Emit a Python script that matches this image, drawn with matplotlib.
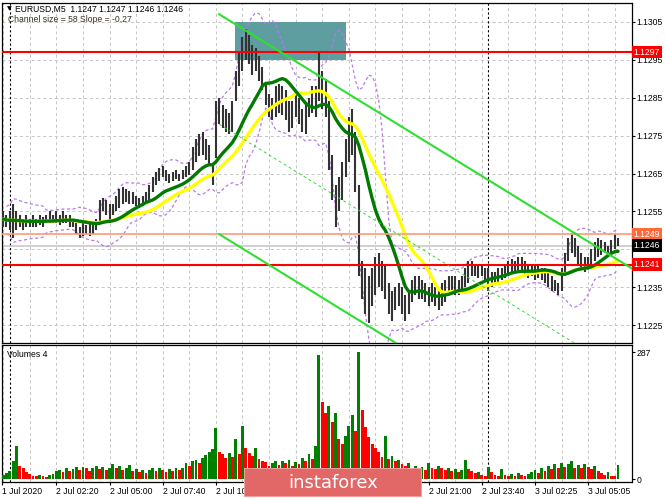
import numpy as np
import pandas as pd
import matplotlib
matplotlib.use("Agg")
import matplotlib.pyplot as plt
import matplotlib.transforms as mtransforms
from matplotlib.patches import Rectangle

# x unit = one M5 bar, counted from 2 Jul 00:00; each drawn bar covers 10 minutes
BAR_START = -4
BAR_STEP = 2

# bar highs / lows in pips above 1.1200
hi_pips = [55, 54, 55, 57, 55, 54, 53, 54, 53,
           54, 53, 54, 53.5, 54, 55, 54, 55, 54, 55, 54, 54, 53,
           52, 51, 52, 51.5, 52, 52, 53,
           58, 58.5, 58, 57, 57,
           59, 61, 61.5, 61, 60.5,
           60, 59, 58.5, 59,
           60, 62, 64, 65.5, 66.5,
           67, 66, 65, 65.5, 66,
           65, 66, 67, 68,
           72, 74, 75.5, 76, 74, 72.5,
           67,
           84, 85, 83, 82, 81, 84,
           92, 97, 101, 103,
           101.5, 99, 98, 96, 93,
           89, 86, 85, 88, 88.5, 88, 87, 84,
           84, 86, 85, 82, 83, 85, 88,
           88, 97, 92,
           90, 84, 70, 62, 64, 68, 74, 80, 82, 76, 62, 42, 40, 38,
           40, 43, 44, 42, 41, 36, 34, 35, 36, 35, 33, 34,
           37, 38, 38, 37, 36, 35, 36, 35, 34, 36, 37,
           38, 38, 38, 37, 38, 40, 42, 42, 41, 41, 41, 40,
           40, 39, 39, 40, 40, 41, 42, 42.5, 42, 43, 43, 42,
           41, 41, 40.5, 41, 40, 40, 39, 38, 37, 36,
           40, 44, 48, 49, 48, 46, 44, 43, 43,
           45, 47, 48, 47.5, 47, 46, 47.5, 49, 48]
lo_pips = [51, 51, 50, 48, 50, 51, 50, 51, 51,
           51, 51, 51.5, 51, 52, 52, 52, 52, 51.5, 52, 52, 51, 51,
           49, 48, 48.5, 49, 48.5, 49, 50,
           52, 55, 54, 52, 54,
           55, 56, 57, 57.5, 57,
           57, 56.5, 56, 56.5,
           57, 58, 60, 62, 63,
           64, 63, 62.5, 63, 63.5,
           63, 63.5, 64, 64.5,
           66, 68, 69.5, 70, 68.5, 67.5,
           62,
           69, 78, 77, 76, 75.5, 76,
           84, 88, 92, 95,
           94, 91, 92, 89.5, 87,
           83, 80, 79, 80, 81, 80.5, 79, 76,
           77, 80, 78, 76, 75.5, 80, 81,
           80, 84, 82,
           80, 66, 58, 51, 55, 58, 64, 68, 70, 60, 38, 32, 28, 25.5,
           30, 33, 35, 34, 32, 28, 26, 29, 30, 28, 26, 28,
           31, 33, 32, 32, 31, 30, 31, 30, 29, 30, 31,
           33, 34, 33, 33, 34, 35, 36, 38, 38, 37.5, 38, 37,
           34, 35, 36, 36.5, 37, 37.5, 38, 39, 39, 39.5, 39, 38.5,
           37.5, 38, 37, 37.5, 37, 36, 35, 34, 34, 33,
           34, 38, 42, 44, 43, 41, 40, 39, 39.5,
           40, 42, 43, 43.5, 44, 43, 44, 45, 46]

volume = [10, 14, 18, 40, 74, 30, 24, 16, 12,
          8, 6, 10, 7, 5, 9, 12, 18, 20, 16, 24, 18, 22,
          27, 20, 28, 24, 18, 26, 30,
          22, 28, 20, 26, 34,
          24, 30, 20, 25, 32,
          18, 22, 16, 20,
          14, 20, 26, 18, 24,
          20, 16, 22, 18, 24,
          20, 26, 36, 30,
          40, 44, 36, 48, 55, 62,
          68,
          116, 62, 56, 48, 58, 50,
          90, 56, 120, 70,
          60, 52, 70, 46, 40,
          38, 30, 36, 42, 32, 40, 36, 44,
          30, 38, 34, 48, 40, 56, 46,
          74, 282, 174,
          150, 165, 130, 150, 90, 80, 98, 120, 145, 110, 287, 157, 118, 95,
          80, 70, 62, 50, 97, 46, 52, 40, 44, 34, 30, 36,
          26, 30, 24, 28, 20, 36, 26, 22, 30, 24, 20,
          26, 18, 22, 16, 20, 44, 22, 18, 14, 16, 10, 8,
          28, 16, 10, 8, 22, 10, 6, 12, 8, 14, 10, 8,
          12, 16, 20, 14, 24, 18, 30, 22, 34, 26,
          36, 28, 34, 40, 26, 32, 24, 34, 28,
          22, 30, 18, 14, 10, 16, 8, 6, 33]

# levels and objects
red_levels = [1.1297, 1.1241]
orange_level = 1.1249
bid = 1.1246
zone_t = (135.5, 202.5)
zone_price = (1.1295, 1.1305)
chan_t0 = 126
chan_top0 = 1.1307
chan_size = 0.0058
chan_slope = -0.000027   # per M5 bar

# labels under the watermark (13:00 .. 18:20) are not visible, so left out
tick_t = [-4.5, 28, 60, 92, 124, 252, 284, 316, 348]
tick_lbl = ["1 Jul 2020", "2 Jul 02:20", "2 Jul 05:00", "2 Jul 07:40", "2 Jul 10:20",
            "2 Jul 21:00", "2 Jul 23:40", "3 Jul 02:25", "3 Jul 05:05"]
price_ticks = [1.1225, 1.1235, 1.1255, 1.1265, 1.1275, 1.1285, 1.1295, 1.1305]
grid_prices = [1.1225, 1.1235, 1.1245, 1.1255, 1.1265, 1.1275, 1.1285, 1.1295, 1.1305]

# --- prepare series ---
hi = 1.12 + np.array(hi_pips) / 10000
lo = 1.12 + np.array(lo_pips) / 10000
t = BAR_START + BAR_STEP * np.arange(len(hi))
med = pd.Series((hi + lo) / 2)
ma_fast = med.rolling(15, min_periods=1).mean()
ma_slow = med.rolling(25, min_periods=1).mean()

# Bollinger(20, 2) on M5: use both ends of each 10-min bar as the samples
both = pd.Series(np.column_stack([lo, hi]).ravel())
bb_mid = both.rolling(20, min_periods=4).mean().to_numpy()[1::2]
bb_std = both.rolling(20, min_periods=4).std(ddof=0).to_numpy()[1::2]
bb_up = bb_mid + 2 * bb_std
bb_dn = bb_mid - 2 * bb_std

vol = np.array(volume)
vol_col = ["#008000"] + ["#008000" if vol[i] > vol[i - 1] else "#ff0000" for i in range(1, len(vol))]

plt.rcParams["font.family"] = ["Liberation Sans", "DejaVu Sans"]
FS = 6.2
W, H = 665, 499
fig = plt.figure(figsize=(W / 100, H / 100), dpi=100, facecolor="white")
ax = fig.add_axes([2 / W, (H - 343) / H, 630 / W, 340.5 / H])
axv = fig.add_axes([2 / W, (H - 481.7) / H, 630 / W, 136.7 / H])

XMIN, XMAX = -4.7, 374.4
grid_t = np.arange(-4, 370, 16)
day_t = [0, 288]
grid_kw = dict(color="#c4c4c4", lw=0.7, ls=(0, (3, 3)), zorder=0)

# --- price panel ---
ax.set_xlim(XMIN, XMAX)
ax.set_ylim(1.12203, 1.13101)
for g in grid_t:
    ax.axvline(g, **grid_kw)
for p in grid_prices:
    ax.axhline(p, **grid_kw)
for d in day_t:
    ax.axvline(d, color="black", lw=0.8, ls=(0, (2, 2)), zorder=1)

ax.add_patch(Rectangle((zone_t[0], zone_price[0]), zone_t[1] - zone_t[0],
                       zone_price[1] - zone_price[0], fc="#5f9ea0", ec="none", zorder=1))

ax.plot(t, bb_up, color="#b77ae8", lw=0.9, ls=(0, (2.5, 2)), zorder=3)
ax.plot(t, bb_dn, color="#b77ae8", lw=0.9, ls=(0, (2.5, 2)), zorder=3)
ax.vlines(t, lo, hi, colors="#333333", lw=1.5, zorder=4)
ax.plot(t, ma_slow, color="#ffff00", lw=2.4, zorder=5, solid_capstyle="round")
ax.plot(t, ma_fast, color="#007a00", lw=2.4, zorder=6, solid_capstyle="round")

ax.axhline(bid, color="#c8c8c8", lw=1.2, zorder=2)
ax.axhline(orange_level, color="#ff9a78", lw=1.2, zorder=7)
for r in red_levels:
    ax.axhline(r, color="#ff0000", lw=1.5, zorder=7)

ct = np.array([chan_t0, XMAX + 5])
top = chan_top0 + chan_slope * (ct - chan_t0)
ax.plot(ct, top, color="#2ee02e", lw=1.5, zorder=8)
ax.plot(ct, top - chan_size, color="#2ee02e", lw=1.5, zorder=8)
ax.plot(ct, top - chan_size / 2, color="#2ee02e", lw=0.7, ls=(0, (3, 3)), zorder=8)

ax.yaxis.tick_right()
ax.set_yticks(price_ticks)
ax.set_yticklabels([f"{p:.4f}" for p in price_ticks])
ax.tick_params(axis="y", direction="out", length=2, pad=1.5, labelsize=FS, colors="black")
ax.set_xticks([])
for s in ax.spines.values():
    s.set_color("black")
    s.set_linewidth(0.9)

tr = mtransforms.blended_transform_factory(ax.transAxes, ax.transData)
for val, fc in [(1.1297, "#ff0000"), (orange_level, "#ff6a3a"), (bid, "black"), (1.1241, "#ff0000")]:
    ax.text(1.003, val, f"{val:.4f}", transform=tr, ha="left", va="center", fontsize=FS,
            color="white", zorder=10, clip_on=False,
            bbox=dict(boxstyle="square,pad=0.2", fc=fc, ec="none"))

fig.text(7 / W, 1 - 9 / H, "\u25bc", fontsize=4.5, va="center", ha="left", family="DejaVu Sans")
fig.text(15 / W, 1 - 9 / H, "EURUSD,M5  1.1247 1.1247 1.1246 1.1246", fontsize=FS,
         va="center", ha="left")
fig.text(8 / W, 1 - 20 / H, "Channel size = 58 Slope = -0.27", fontsize=FS,
         va="center", ha="left", color="#3a3020")

# --- volume panel ---
axv.set_xlim(XMIN, XMAX)
axv.set_ylim(-6, 304)
for g in grid_t:
    axv.axvline(g, **grid_kw)
for d in day_t:
    axv.axvline(d, color="black", lw=0.8, ls=(0, (2, 2)), zorder=1)
axv.bar(t, vol, width=1.7, color=vol_col, zorder=3)
axv.yaxis.tick_right()
axv.set_yticks([0, 287])
axv.set_yticklabels(["0", "287"])
axv.tick_params(axis="y", direction="out", length=2, pad=1.5, labelsize=FS)
axv.set_xticks(tick_t)
axv.set_xticklabels(tick_lbl, ha="left")
axv.tick_params(axis="x", direction="out", length=2, pad=1.5, labelsize=FS)
for s in axv.spines.values():
    s.set_color("black")
    s.set_linewidth(0.9)
axv.text(0.008, 0.93, "Volumes 4", transform=axv.transAxes, fontsize=FS, ha="left", va="center")

# watermark banner
bax = fig.add_axes([244 / W, (H - 497) / H, 178 / W, 29 / H])
bax.set_xlim(0, 1)
bax.set_ylim(0, 1)
bax.add_patch(Rectangle((0, 0), 1, 1, fc="#e26868", ec="#f2a8a8", lw=1.2))
bax.text(0.5, 0.47, "instaforex", fontsize=13, color="white", ha="center", va="center",
         family="DejaVu Sans")
bax.axis("off")

fig.savefig("out.png", dpi=100, facecolor="white")
